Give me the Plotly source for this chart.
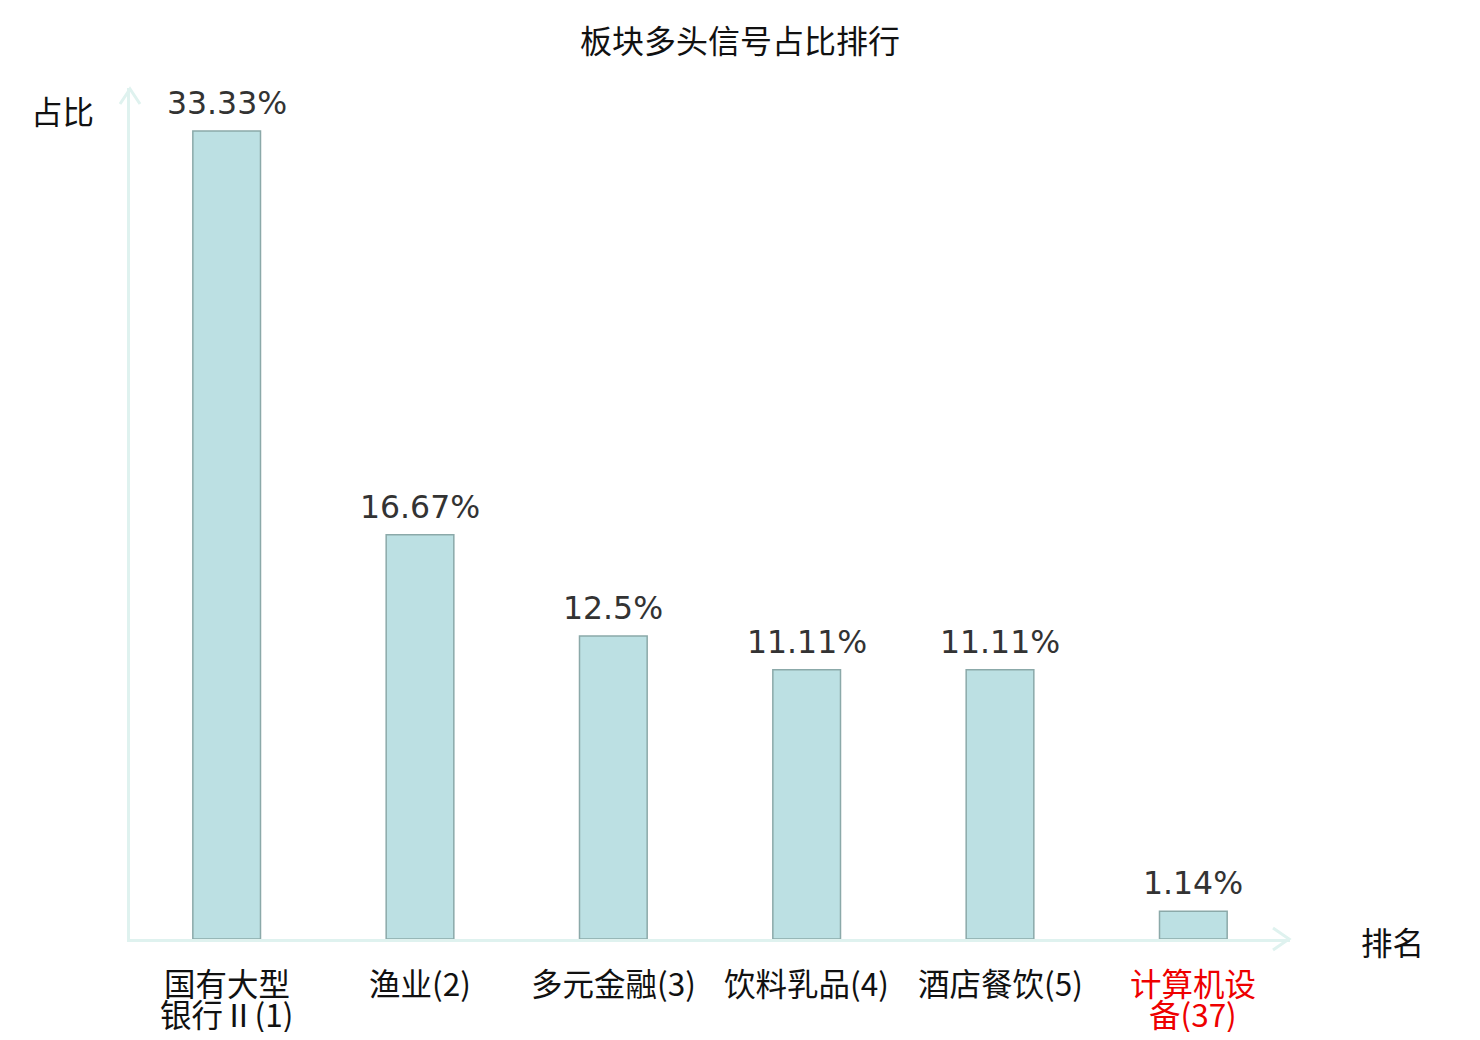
import plotly.graph_objects as go

# 板块多头信号占比
sectors = ['国有大型银行Ⅱ(1)', '渔业(2)', '多元金融(3)', '饮料乳品(4)', '酒店餐饮(5)', '计算机设备(37)']
ratios = [33.33, 16.67, 12.5, 11.11, 11.11, 1.14]
labels = ['33.33%', '16.67%', '12.5%', '11.11%', '11.11%', '1.14%']
# category labels as they wrap under the axis
tick_lines = [['国有大型', '银行Ⅱ(1)'], ['渔业(2)'], ['多元金融(3)'], ['饮料乳品(4)'],
              ['酒店餐饮(5)'], ['计算机设', '备(37)']]
tick_colors = ['#111111'] * 5 + ['#ee0000']

# page is offset by the 8px body margin, so the figure is sized to fit inside
OFF = 8
W, H = 1480 - 2 * OFF, 1040 - 2 * OFF
L, R, T, B = 130 - OFF, W - (1290 - OFF), 88 - OFF, H - (939 - OFF)
pw, ph = W - L - R, H - T - B

axis_color = '#dff2ef'
cjk = 'Noto Sans CJK SC, DejaVu Sans, sans-serif'


def px_x(p):
    # page pixel -> paper x
    return (p - OFF - L) / pw


def px_y(p):
    # page pixel -> paper y
    return (H - B - (p - OFF)) / ph


fig = go.Figure()
fig.add_trace(go.Bar(
    x=sectors, y=ratios,
    marker=dict(color='#bce0e3', line=dict(color='#8ba9a9', width=1.5)),
    width=0.35,
))

# value labels above the bars
annotations = [
    dict(x=s, y=v, xref='x', yref='y', text=t, showarrow=False,
         yanchor='bottom', yshift=8,
         font=dict(family='DejaVu Sans', size=31.5, color='#333333'))
    for s, v, t in zip(sectors, ratios, labels)
]
# category labels, one annotation per line so the lines sit close together
for s, lines, c in zip(sectors, tick_lines, tick_colors):
    for i, line in enumerate(lines):
        annotations.append(dict(
            x=s, y=0, xref='x', yref='paper', text=line, showarrow=False,
            xanchor='center', yanchor='middle', yshift=-(982 - 939) - 31 * i,
            font=dict(family=cjk, size=31.5, color=c)))
annotations += [
    dict(text='占比', xref='paper', yref='paper', x=px_x(62), y=px_y(110),
         xanchor='center', yanchor='middle',
         showarrow=False, font=dict(family=cjk, size=31.5, color='#111111')),
    dict(text='排名', xref='paper', yref='paper', x=px_x(1392), y=px_y(941),
         xanchor='center', yanchor='middle',
         showarrow=False, font=dict(family=cjk, size=31.5, color='#111111')),
]

# axis arrow heads
arrow = dict(type='path', xref='paper', yref='paper',
             line=dict(color=axis_color, width=3))
shapes = [
    dict(arrow, path=f'M {px_x(120)} {px_y(104)} L {px_x(130)} {px_y(89)} L {px_x(140)} {px_y(104)}'),
    dict(arrow, path=f'M {px_x(1273)} {px_y(928)} L {px_x(1289)} {px_y(939)} L {px_x(1273)} {px_y(950)}'),
]

fig.update_layout(
    width=W, height=H,
    margin=dict(l=L, r=R, t=T, b=B, autoexpand=False),
    paper_bgcolor='white', plot_bgcolor='white',
    showlegend=False,
    title=dict(text='板块多头信号占比排行', x=0.5, xanchor='center', y=1 - (42 - OFF) / H, yanchor='middle',
               font=dict(family=cjk, size=32, color='#111111')),
    shapes=shapes,
    annotations=annotations,
)
fig.update_xaxes(
    showticklabels=False, automargin=False,
    showline=True, linecolor=axis_color, linewidth=3,
    ticks='', showgrid=False, zeroline=False,
)
fig.update_yaxes(
    range=[0, 35.1], showticklabels=False, showgrid=False, zeroline=False,
    showline=True, linecolor=axis_color, linewidth=3, automargin=False,
)

fig.write_html('out.html')
